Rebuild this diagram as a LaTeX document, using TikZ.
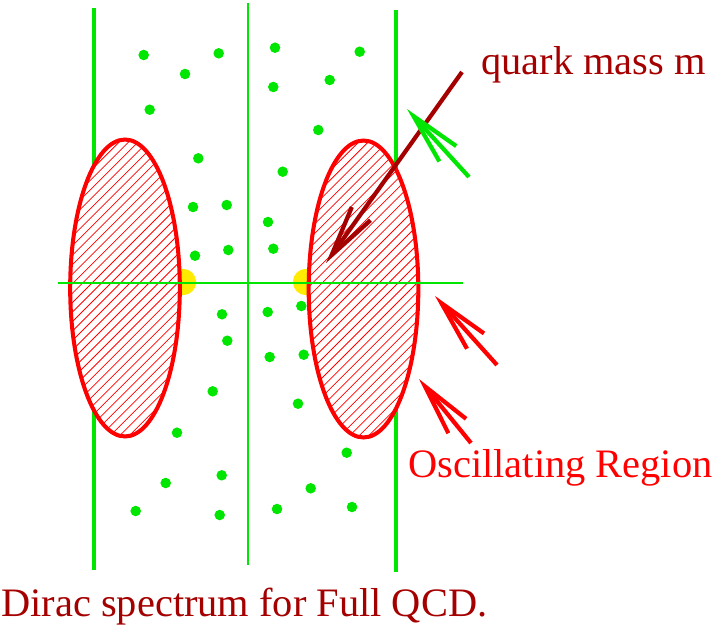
\documentclass[tikz,border=0pt]{standalone}
\usepackage{fontspec}
\setmainfont{Liberation Serif}
\usetikzlibrary{shapes.geometric,arrows.meta}

\definecolor{qgreen}{RGB}{0,230,0}
\definecolor{qred}{RGB}{255,0,0}
\definecolor{qdark}{RGB}{165,0,0}
\definecolor{qyellow}{RGB}{255,235,0}

\tikzset{
  region/.style={ellipse,draw=qred,line width=2.3pt,fill=white,inner sep=0pt,
    minimum width=62.4pt,minimum height=169pt,
    path picture={
      \foreach \k in {-30,...,30}
        \draw[qred,line width=0.45pt]
          ([xshift=\k*5.4pt-120pt,yshift=-120pt]path picture bounding box.center)
          -- ++(240pt,240pt);
    }},
  eigen/.style={circle,fill=qgreen,inner sep=0pt,minimum size=6pt},
  pointer/.style={line width=2.4pt,-{Straight Barb[length=29pt,width=13pt]}}
}

\begin{document}
\begin{tikzpicture}[x=0.02cm,y=-0.02cm]
      \useasboundingbox (0,0) rectangle (719,635);

      % axes
      \draw[qgreen,line width=2.4pt] (94,8) -- (94,570);
      \draw[qgreen,line width=2.4pt] (396,10) -- (396,572);
      \fill[qyellow] (183,282) circle (7.5pt);
      \fill[qyellow] (306,282) circle (7.5pt);

      \node[region] (left)  at (125,288) {};
      \node[region] (right) at (363.5,289) {};

      \draw[qgreen,line width=0.8pt] (248,3) -- (248,565);
      \draw[qgreen,line width=0.8pt] (58,283) -- (463,283);

      % eigenvalues
      \begin{scope}[every node/.style={eigen}]
        \foreach \x/\y [count=\i] in {143.7/55,218.7/53.3,185/74,149.7/109.7,
            198.3/158.3,193/207,226.7/205,195/255.7,228.3/250,275/47.7,
            359.7/51.7,273.3/87,329.7/80,318.3/130,282.7/171.7,268/222,
            273.3/248.7,222/314.3,227.3/340.7,212.7/391.3,177/432.7,
            165.7/483,221.7/475.3,135.7/511,219.7/515,267.7/312,301.3/306,
            269.7/357,303.7/354.7,298/403.7,346.7/452.7,310.7/488.3,
            277/509,352/507}
          \node (d\i) at (\x,\y) {};
      \end{scope}

      % arrows
      \coordinate (mtail) at (462,72);
      \coordinate (mtip)  at (326,263);
      \coordinate (gtail) at (469,177);
      \coordinate (gtip)  at (407,109);
      \coordinate (r1tail) at (497,365);
      \coordinate (r1tip)  at (435,296);
      \coordinate (r2tail) at (471,443);
      \coordinate (r2tip)  at (419,379);

      \draw[pointer,qdark] (mtail) -- (mtip);
      \draw[pointer,qgreen] (gtail) -- (gtip);
      \draw[pointer,qred] (r1tail) -- (r1tip);
      \draw[pointer,qred] (r2tail) -- (r2tip);

      % labels
      \begin{scope}[every node/.style={anchor=base west,inner sep=0pt,
          font=\fontsize{23}{26}\selectfont}]
        \node[text=qdark] (mass) at (481,74) {quark mass m};
        \node[text=qred] (osc) at (408,477) {Oscillating Region};
        \node[text=qdark] (title) at (1,616) {Dirac spectrum for Full QCD.};
      \end{scope}

    \end{tikzpicture}
\end{document}
